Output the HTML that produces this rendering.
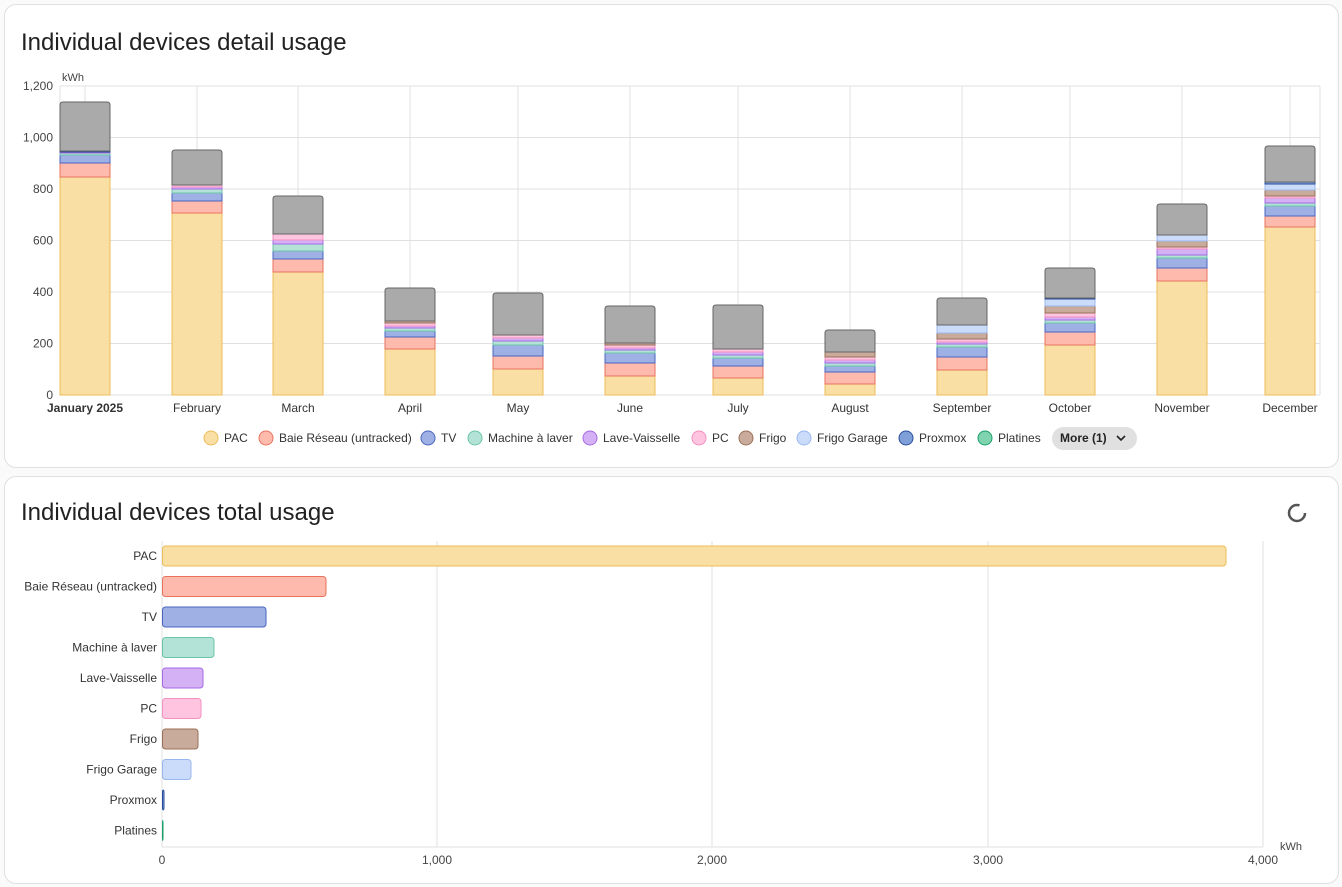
<!DOCTYPE html>
<html><head><meta charset="utf-8">
<style>
body{margin:0;background:#fafafa;width:1342px;height:887px;overflow:hidden;font-family:"Liberation Sans",sans-serif}
.card{position:absolute;left:4px;width:1333px;background:#fff;border:1px solid #e0e0e0;border-radius:12px}
.t{position:absolute;left:16px;font-size:24px;color:#212121}
svg{position:absolute;left:0;top:0}
</style></head><body>
<div class="card" style="top:4px;height:462px"><div class="t" style="top:24px">Individual devices detail usage</div></div>
<div class="card" style="top:476px;height:406px"><div class="t" style="top:22px">Individual devices total usage</div></div>
<svg id="s" width="1342" height="887" font-family="Liberation Sans, sans-serif"></svg>
<script>
const C=[["#f9dfa4","#ebbd5a"],["#ffbaae","#e8735c"],["#9eb0e4","#4a65c0"],["#b3e3d6","#6cc4a8"],["#d4b0f5","#a56ae5"],["#ffc5e0","#f290c0"],["#c9ab9b","#9b705a"],["#cadcfa","#99b7ee"],["#7f9fd8","#2a4d9b"],["#7fd3ae","#1aa06a"]];
let h='';
// top grid
for(let i=0;i<=6;i++){let y=395-i*51.5;h+=`<line x1="60" x2="1320" y1="${y}" y2="${y}" stroke="#e0e0e0"/>`;h+=`<text x="53" y="${y+4}" font-size="12" text-anchor="end" fill="#444">${["0","200","400","600","800","1,000","1,200"][i]}</text>`}
h+=`<text x="62" y="81" font-size="11" fill="#444">kWh</text>`;
const cx=[85,197,298,410,518,630,738,850,962,1070,1182,1290];
const names=["January 2025","February","March","April","May","June","July","August","September","October","November","December"];
cx.forEach((x,i)=>{h+=`<line x1="${x}" x2="${x}" y1="86" y2="395" stroke="#e0e0e0"/>`;h+=`<text x="${x}" y="412" font-size="12" text-anchor="middle" fill="#333" ${i==0?'font-weight="bold"':''}>${names[i]}</text>`});
h+=`<line x1="60" x2="60" y1="86" y2="395" stroke="#e0e0e0"/><line x1="1320" x2="1320" y1="86" y2="395" stroke="#e0e0e0"/>`;
// segment tops: PAC,Baie,TV,Mach,Lave,PC,Frigo,FG,Prox ; grey top
const B=[[177,163,155,153,152,152,152,152,151,102],[213,201,193,189,187,185,185,185,185,150],[272,259,251,244,240,234,234,234,234,196],[349,337,331,328,326,323,321,321,321,288],[369,356,345,341,338,335,335,335,335,293],[376,363,353,350,348,345,343,343,343,306],[378,366,358,355,352,349,349,349,349,305],[384,372,366,363,360,357,352,352,352,330],[370,357,347,344,342,339,333,325,325,298],[345,332,323,320,317,313,306,299,298,268],[281,268,258,255,249,247,241,235,235,204],[227,216,206,203,198,196,190,184,182,146]];
B.forEach((b,i)=>{let x=cx[i]-25,prev=395;for(let k=0;k<9;k++){let t=b[k];if(prev-t>0.5)h+=`<rect x="${x}" y="${t}" width="50" height="${prev-t}" fill="${C[k][0]}" stroke="${C[k][1]}" stroke-width="1"/>`;prev=t}
let g=b[9];h+=`<path d="M${x} ${prev}V${g+3}Q${x} ${g} ${x+3} ${g}H${x+47}Q${x+50} ${g} ${x+50} ${g+3}V${prev}Z" fill="#aaaaaa" stroke="#666"/>`});
// legend
const L=[[211,"PAC",36],[266,"Baie Réseau (untracked)",140],[428,"TV",16],[475,"Machine à laver",85],[590,"Lave-Vaisselle",88],[699,"PC",16],[746,"Frigo",27],[804,"Frigo Garage",81],[906,"Proxmox",49],[985,"Platines",41]];
L.forEach((l,k)=>{h+=`<circle cx="${l[0]}" cy="438" r="7" fill="${C[k][0]}" stroke="${C[k][1]}"/><text x="${l[0]+13}" y="442" font-size="12" fill="#333">${l[1]}</text>`});
h+=`<rect x="1052" y="427" width="85" height="23" rx="11.5" fill="#e0e0e0"/><text x="1060" y="442" font-size="12" font-weight="bold" fill="#222">More (1)</text><path d="M1117 436l4 4 4-4" fill="none" stroke="#222" stroke-width="1.6"/>`;
// spinner
h+=`<circle cx="1297" cy="513" r="8" fill="none" stroke="#555" stroke-width="2.5" stroke-dasharray="40 10"/>`;
// bottom grid
[162,437,712,988,1263].forEach((x,i)=>{h+=`<line x1="${x}" x2="${x}" y1="541" y2="847" stroke="#e0e0e0"/><text x="${x}" y="864" font-size="12" text-anchor="middle" fill="#444">${["0","1,000","2,000","3,000","4,000"][i]}</text>`});
h+=`<line x1="162" x2="1263" y1="847" y2="847" stroke="#e0e0e0"/><text x="1280" y="850" font-size="11" fill="#444">kWh</text>`;
const HB=[["PAC",1226],["Baie Réseau (untracked)",326],["TV",266],["Machine à laver",214],["Lave-Vaisselle",203],["PC",201],["Frigo",198],["Frigo Garage",191],["Proxmox",164],["Platines",163]];
HB.forEach((r,k)=>{let y=556+k*30.5;h+=`<text x="157" y="${y+4}" font-size="12" text-anchor="end" fill="#333">${r[0]}</text>`;h+=`<rect x="162.5" y="${y-10}" width="${r[1]-162.5}" height="20" rx="3" fill="${C[k][0]}" stroke="${C[k][1]}"/>`});
document.getElementById('s').innerHTML=h;
</script>
</body></html>
